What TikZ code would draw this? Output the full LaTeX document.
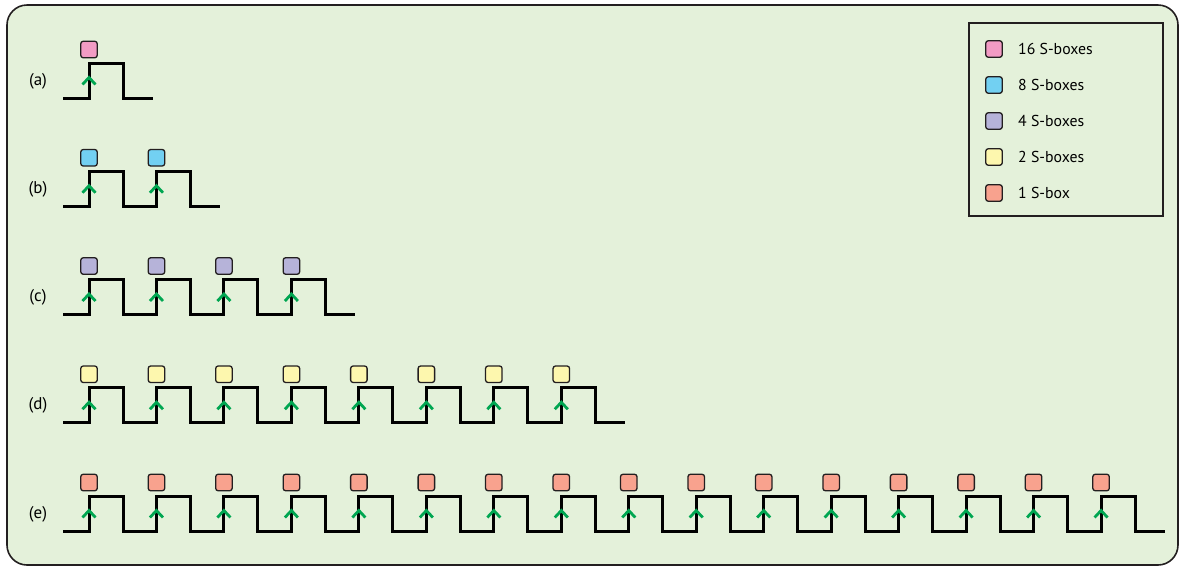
\documentclass[tikz,border=0pt]{standalone}
\usepackage{fontspec}
\setmainfont{PT Sans}
\definecolor{bg}{HTML}{E4F1DA}
\definecolor{pinkc}{HTML}{F29BC4}
\definecolor{bluec}{HTML}{72D0F2}
\definecolor{lavc}{HTML}{B6B3D9}
\definecolor{yelc}{HTML}{FDF7AE}
\definecolor{salc}{HTML}{F8A28E}
\definecolor{arrgreen}{HTML}{00A651}
\definecolor{framec}{HTML}{231F20}
\begin{document}
\begin{tikzpicture}[x=1pt,y=-1pt,
  sbox/.style={draw=framec, line width=1.3pt, rounded corners=2.5pt, minimum size=16.5pt, inner sep=0pt},
  wave/.style={draw=black, line width=3pt, line join=miter},
  chev/.style={draw=arrgreen, line width=2.8pt},
  lab/.style={font=\fontsize{17}{20}\selectfont, inner sep=0pt},
  legtext/.style={font=\fontsize{15.8}{19}\selectfont, anchor=west, inner sep=0pt}]
\useasboundingbox (0,0) rectangle (1179,566);
\draw[fill=bg, draw=framec, line width=1.6pt, rounded corners=20pt] (7,5) rectangle (1178,565);
% legend
\draw[draw=framec, line width=1.4pt] (969,23) rectangle (1163,216);
\foreach \k/\col/\txt in {0/pinkc/16 S-boxes, 1/bluec/8 S-boxes, 2/lavc/4 S-boxes, 3/yelc/2 S-boxes, 4/salc/1 S-box} {
  \node[sbox, fill=\col] (leg-\k) at (994, 49+\k*36) {};
  \node[legtext] (legt-\k) at (1018, 49+\k*36) {\txt};
}
% rows
\foreach \r/\lab/\col/\n in {0/a/pinkc/1, 1/b/bluec/2, 2/c/lavc/4, 3/d/yelc/8, 4/e/salc/16} {
  \pgfmathsetmacro{\yl}{98+\r*108.25}
  \pgfmathsetmacro{\yh}{\yl-35}
  \node[lab] (label-\lab) at (38, \yl-17) {(\lab)};
  \draw[wave] (63,\yl) \foreach \i in {1,...,\n} { -- ({89+(\i-1)*67.47},\yl) -- ({89+(\i-1)*67.47},\yh) -- ({123+(\i-1)*67.47},\yh) -- ({123+(\i-1)*67.47},\yl) } -- ++(30,0);
  \foreach \i in {1,...,\n} {
    \node[sbox, fill=\col] (box-\lab-\i) at ({89+(\i-1)*67.47}, \yh-13.5) {};
    \draw[chev] ({89+(\i-1)*67.47-6.5}, \yl-13.5) -- ({89+(\i-1)*67.47}, \yl-20.5) -- ({89+(\i-1)*67.47+6.5}, \yl-13.5);
  }
}
\end{tikzpicture}
\end{document}
